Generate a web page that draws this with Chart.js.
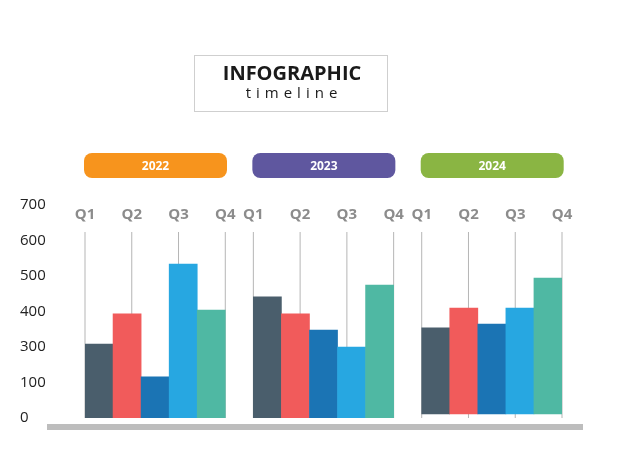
<!DOCTYPE html>
<html><head><meta charset="utf-8">
<script src="https://cdn.jsdelivr.net/npm/chart.js@4/dist/chart.umd.min.js"></script>
<style>html,body{margin:0;padding:0;background:#fff}#c{display:block}</style>
</head><body>
<div style="width:626px;height:470px"><canvas id="c" width="626" height="470"></canvas></div>
<script>
const years = ["2022","2023","2024"];
const quarters = ["Q1","Q2","Q3","Q4"];
const yTickLabels = ["0","100","300","400","500","600","700"];
const values2022 = [243, 342, 135, 506, 355];
const values2023 = [398, 342, 289, 233, 437];
const values2024 = [296, 361, 309, 361, 460];
const base2024 = 13;
const barColors = ["#4a5e6c","#f15b5b","#1b74b4","#27a7e1","#4fb8a3"];
const yearColors = ["#f7941d","#5f579f","#8ab543"];

const labels = [], data = [], colors = [];
[values2022, values2023, values2024].forEach((arr, g) => {
  arr.forEach((v, i) => { labels.push(years[g] + "-" + i); data.push(g === 2 ? [base2024, v] : [0, v]); colors.push(barColors[i]); });
  if (g < 2) { labels.push("gap" + g); data.push(null); colors.push("rgba(0,0,0,0)"); }
});

const deco = {
  id: "deco",
  beforeDatasetsDraw(chart) {
    const ctx = chart.ctx, x = chart.scales.x, y = chart.scales.y;
    ctx.save();
    // title box
    ctx.strokeStyle = "#cfcfcf"; ctx.lineWidth = 1;
    ctx.strokeRect(194.5, 55.5, 193, 56);
    ctx.fillStyle = "#1a1a1a"; ctx.textAlign = "center"; ctx.textBaseline = "middle";
    ctx.font = "bold 20px 'Open Sans', sans-serif";
    ctx.fillText("INFOGRAPHIC", 292, 74);
    ctx.font = "15px 'Open Sans', sans-serif";
    ctx.letterSpacing = "5px";
    ctx.fillText("timeline", 294, 94);
    ctx.letterSpacing = "0px";
    // bottom bar
    ctx.fillStyle = "#bdbdbd"; ctx.fillRect(47, 424, 536, 6);
    years.forEach((yr, g) => {
      const first = g * 6, last = first + 4;
      const half = (x.getPixelForValue(1) - x.getPixelForValue(0)) / 2;
      const left = x.getPixelForValue(first) - half, right = x.getPixelForValue(last) + half;
      // pill
      const px = left - 1, pw = 143, py = 153, ph = 25, r = 8;
      ctx.fillStyle = yearColors[g];
      ctx.beginPath(); ctx.roundRect(px, py, pw, ph, r); ctx.fill();
      ctx.fillStyle = "#fff"; ctx.font = "bold 12px 'Open Sans', sans-serif";
      ctx.fillText(yr, px + pw / 2, py + ph / 2 + 1);
      // quarter lines & labels
      quarters.forEach((q, i) => {
        const qx = left + i * (right - left) / 3;
        ctx.strokeStyle = "#b5b5b5"; ctx.lineWidth = 1;
        ctx.beginPath(); ctx.moveTo(qx, 232); ctx.lineTo(qx, y.getPixelForValue(0)); ctx.stroke();
        ctx.fillStyle = "#8c8c8c"; ctx.font = "bold 15px 'Open Sans', sans-serif";
        ctx.fillText(q, qx, 215);
      });
    });
    ctx.restore();
  }
};

new Chart(document.getElementById("c"), {
  type: "bar",
  data: { labels, datasets: [{ data, backgroundColor: colors, barPercentage: 1, categoryPercentage: 1, borderWidth: 0 }] },
  options: {
    responsive: false, animation: false,
    layout: { padding: { left: 20, top: 205, bottom: 52, right: 64 } },
    plugins: { legend: { display: false }, tooltip: { enabled: false } },
    scales: {
      x: { display: false },
      y: {
        min: 0, max: 700, border: { display: false }, grid: { display: false },
        afterBuildTicks(s) { s.ticks = yTickLabels.map((t, i) => ({ value: i * 700 / 6 })); },
        afterFit(s) { s.width = 65; },
        ticks: { crossAlign: "far", color: "#222", font: { size: 15, family: "'Open Sans', sans-serif" },
          callback: (v, i) => yTickLabels[i] }
      }
    }
  },
  plugins: [deco]
});
</script>
</body></html>
